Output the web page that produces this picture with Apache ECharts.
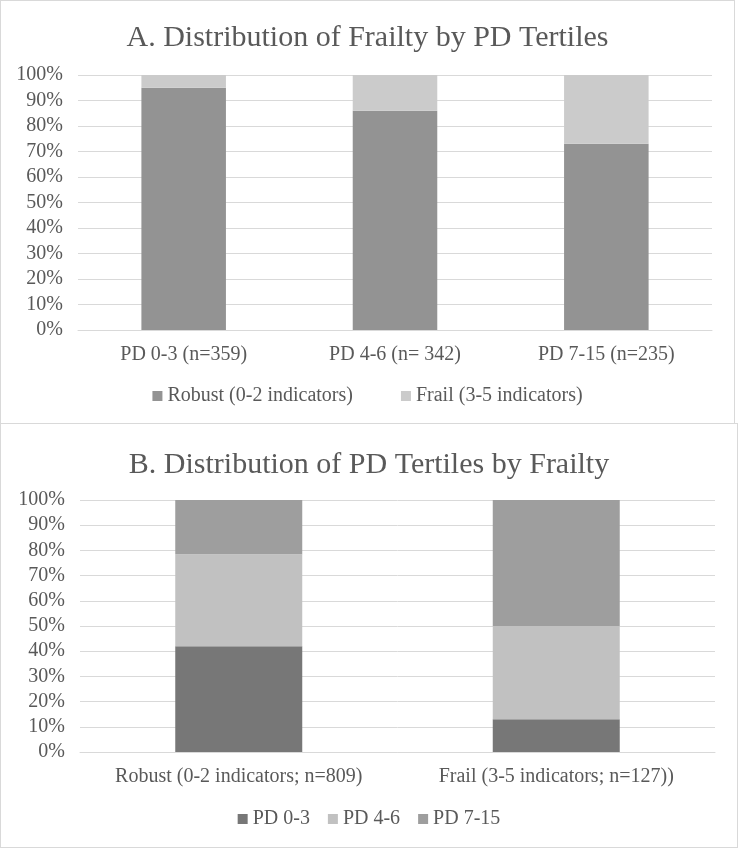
<!DOCTYPE html>
<html>
<head>
<meta charset="utf-8">
<script src="https://cdn.jsdelivr.net/npm/echarts@6/dist/echarts.min.js"></script>
<style>
  html, body { margin: 0; padding: 0; background: #ffffff; }
  body { width: 739px; height: 849px; position: relative; overflow: hidden; }
  .panel { position: absolute; box-sizing: border-box; border: 1px solid #d9d9d9; background: #fff; }
  #chartA { left: 0; top: 0; width: 735px; height: 425px; }
  #chartB { left: 0; top: 423px; width: 738px; height: 425px; }
</style>
</head>
<body>
<div id="chartA" class="panel"></div>
<div id="chartB" class="panel"></div>
<script>
// ---- Data ----
const titleA = 'A. Distribution of Frailty by PD Tertiles';
const categoriesA = ['PD 0-3 (n=359)', 'PD 4-6 (n= 342)', 'PD 7-15 (n=235)'];
const robustA = [95, 86, 73];
const frailA = [5, 14, 27];

const titleB = 'B. Distribution of PD Tertiles by Frailty';
const categoriesB = ['Robust (0-2 indicators; n=809)', 'Frail (3-5 indicators; n=127))'];
const pd03B = [42, 13];
const pd46B = [36.5, 37];
const pd715B = [21.5, 50];

const yTicks = [0, 10, 20, 30, 40, 50, 60, 70, 80, 90, 100];

// ---- Styling ----
const FONT = '"Liberation Serif", serif';
const TXT = '#595959';
const GRID = '#d9d9d9';

function valueAxis() {
  return {
    type: 'value', min: yTicks[0], max: yTicks[yTicks.length - 1], interval: yTicks[1] - yTicks[0],
    axisLine: { show: false }, axisTick: { show: false },
    splitLine: { lineStyle: { color: GRID, width: 1 } },
    axisLabel: { formatter: '{value}%', color: TXT, fontFamily: FONT, fontSize: 20, margin: 15 }
  };
}
function catAxis(cats) {
  return {
    type: 'category', data: cats,
    axisLine: { show: true, lineStyle: { color: GRID, width: 1 } },
    axisTick: { show: false },
    axisLabel: { color: TXT, fontFamily: FONT, fontSize: 20, margin: 15, interval: 0, hideOverlap: false }
  };
}
function titleOpt(t, top) {
  return { text: t, left: 'center', top: top, textStyle: { color: TXT, fontFamily: FONT, fontSize: 30, fontWeight: 'normal' } };
}
function legendOpt(gap, bottom) {
  return {
    bottom: bottom, left: 'center', itemWidth: 10, itemHeight: 10, itemGap: gap, icon: 'rect',
    textStyle: { color: TXT, fontFamily: FONT, fontSize: 20 }
  };
}

const chartA = echarts.init(document.getElementById('chartA'));
chartA.setOption({
  animation: false,
  title: titleOpt(titleA, 17),
  legend: legendOpt(48, 13),
  grid: { left: 77, right: 22, top: 74, bottom: 94 },
  xAxis: catAxis(categoriesA),
  yAxis: valueAxis(),
  series: [
    { name: 'Robust (0-2 indicators)', type: 'bar', stack: 'a', barWidth: '40%', data: robustA, itemStyle: { color: '#939393' } },
    { name: 'Frail (3-5 indicators)', type: 'bar', stack: 'a', barWidth: '40%', data: frailA, itemStyle: { color: '#cbcbcb' } }
  ]
});

const chartB = echarts.init(document.getElementById('chartB'));
chartB.setOption({
  animation: false,
  title: titleOpt(titleB, 21),
  legend: legendOpt(18, 13),
  grid: { left: 79, right: 22, top: 76, bottom: 95 },
  xAxis: catAxis(categoriesB),
  yAxis: valueAxis(),
  series: [
    { name: 'PD 0-3', type: 'bar', stack: 'b', barWidth: '40%', data: pd03B, itemStyle: { color: '#777777' } },
    { name: 'PD 4-6', type: 'bar', stack: 'b', barWidth: '40%', data: pd46B, itemStyle: { color: '#c1c1c1' } },
    { name: 'PD 7-15', type: 'bar', stack: 'b', barWidth: '40%', data: pd715B, itemStyle: { color: '#9e9e9e' } }
  ]
});
</script>
</body>
</html>
